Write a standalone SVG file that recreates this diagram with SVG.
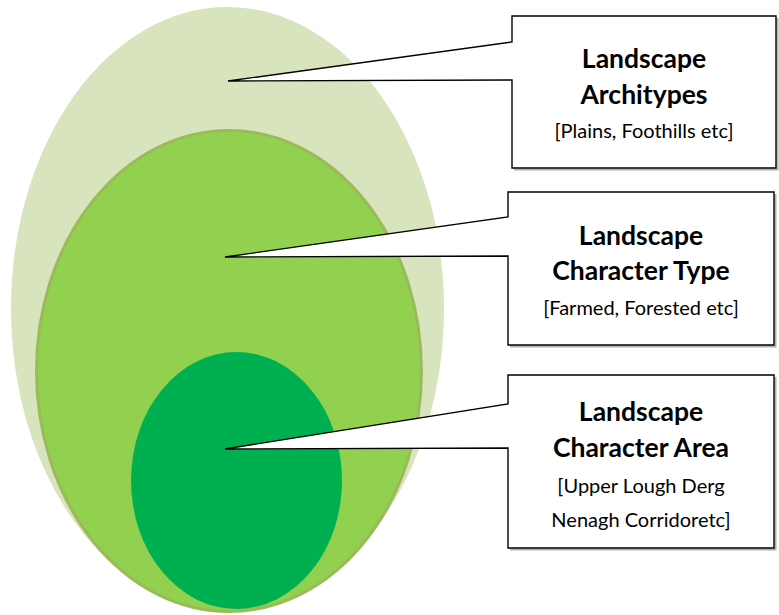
<svg xmlns="http://www.w3.org/2000/svg" width="779" height="615" viewBox="0 0 779 615">
  <style>
    .callout { fill: #ffffff; stroke: #000000; stroke-width: 1.4; stroke-linejoin: miter; }
    .shadow { fill: none; stroke: #b0b0b0; stroke-width: 2; }
    .title { font-family: Lato, "Open Sans", sans-serif; font-weight: bold; font-size: 26.5px; fill: #000000; text-anchor: middle; }
    .sub { font-family: Lato, "Open Sans", sans-serif; font-size: 20px; fill: #000000; text-anchor: middle; }
  </style>
  <g id="ellipses">
    <ellipse id="outer" cx="227.5" cy="308.5" rx="216.5" ry="301.5" fill="#D7E4BD"/>
    <ellipse id="middle" cx="229" cy="371" rx="192.5" ry="240.5" fill="#92D050" stroke="#9BBB59" stroke-width="3"/>
    <ellipse id="inner" cx="236.5" cy="480.5" rx="105.5" ry="128.5" fill="#00B050"/>
  </g>
  <g id="shadows">
    <path class="shadow" d="M514,169.5 H777.5 V18"/>
    <path class="shadow" d="M510,346.5 H775.5 V194"/>
    <path class="shadow" d="M510,549.5 H775.5 V377"/>
  </g>
  <g id="node-architypes">
    <path class="callout" d="M512,16 H776 V168 H512 V80 L228,81 L512,42 Z"/>
    <text class="title" x="644" y="68">Landscape</text>
    <text class="title" x="644" y="104">Architypes</text>
    <text class="sub" x="644" y="138">[Plains, Foothills etc]</text>
  </g>
  <g id="node-character-type">
    <path class="callout" d="M508,192 H774 V345 H508 V256 L225,257 L508,217 Z"/>
    <text class="title" x="641" y="245">Landscape</text>
    <text class="title" x="641" y="280">Character Type</text>
    <text class="sub" x="641" y="315">[Farmed, Forested etc]</text>
  </g>
  <g id="node-character-area">
    <path class="callout" d="M508,375 H774 V548 H508 V448 L225,449 L508,404 Z"/>
    <text class="title" x="641" y="421">Landscape</text>
    <text class="title" x="641" y="457">Character Area</text>
    <text class="sub" x="641" y="493">[Upper Lough Derg</text>
    <text class="sub" x="641" y="527">Nenagh Corridoretc]</text>
  </g>
</svg>
